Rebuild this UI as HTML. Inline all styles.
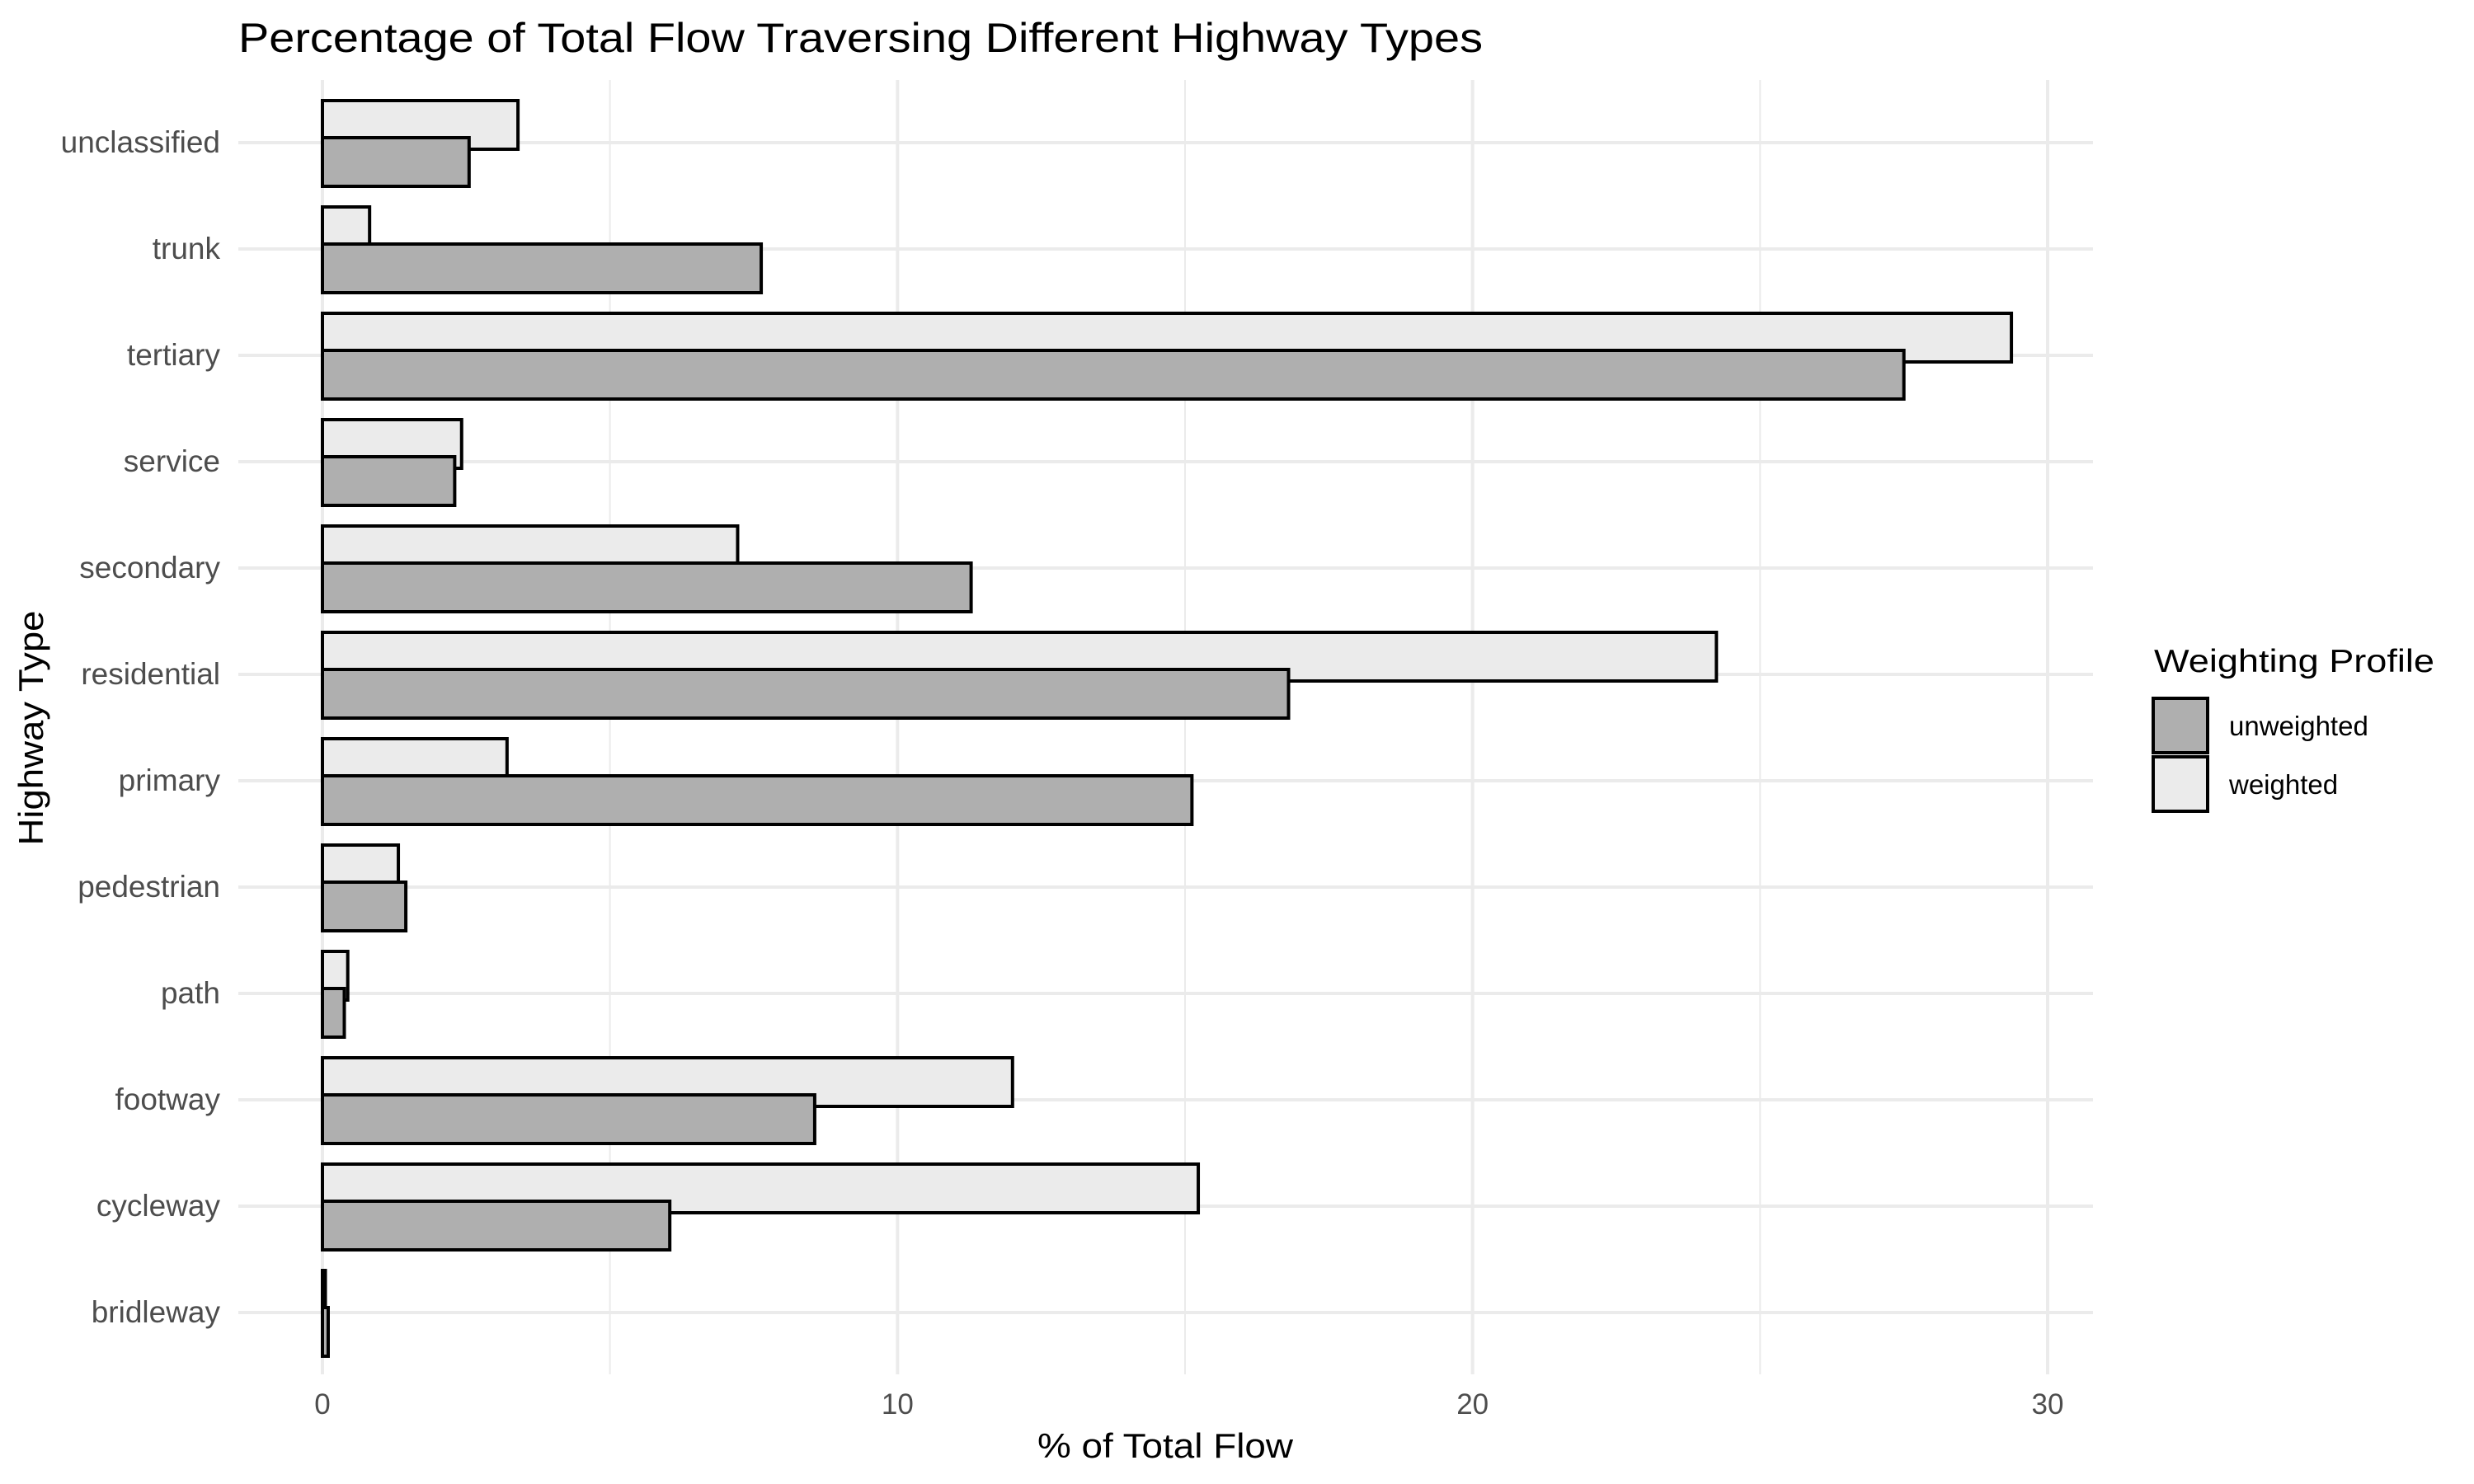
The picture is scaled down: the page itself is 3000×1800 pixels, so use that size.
<!DOCTYPE html>
<html><head><meta charset="utf-8"><style>
body{margin:0;background:#fff}
svg{display:block;font-family:"Liberation Sans",Arial,sans-serif}
</style></head><body>
<svg id="chart" width="3000" height="1800" viewBox="0 0 3000 1800">
<text x="289" y="63" font-size="50" fill="#000" textLength="1509" lengthAdjust="spacingAndGlyphs">Percentage of Total Flow Traversing Different Highway Types</text>
<g id="grid"></g>
<g id="bars"></g>
<g id="yticks"></g>
<g id="xticks"></g>
<text x="1413" y="1768" font-size="42" text-anchor="middle" textLength="310" lengthAdjust="spacingAndGlyphs">% of Total Flow</text>
<text transform="translate(52,883) rotate(-90)" font-size="42" text-anchor="middle" textLength="285" lengthAdjust="spacingAndGlyphs">Highway Type</text>
<g>
<text x="2612" y="815" font-size="39" textLength="340" lengthAdjust="spacingAndGlyphs">Weighting Profile</text>
<rect x="2611" y="847" width="66" height="66" fill="#afafaf" stroke="#000" stroke-width="4"/>
<text x="2703" y="892" font-size="33">unweighted</text>
<rect x="2611" y="918" width="66" height="66" fill="#ebebeb" stroke="#000" stroke-width="4"/>
<text x="2703" y="963" font-size="33">weighted</text>
</g>
</svg>
<script>
const categories = ["unclassified","trunk","tertiary","service","secondary","residential","primary","pedestrian","path","footway","cycleway","bridleway"];
const unweighted = [2.55,7.63,27.5,2.3,11.28,16.8,15.12,1.45,0.38,8.56,6.04,0.1];
const weighted = [3.4,0.82,29.37,2.42,7.22,24.24,3.21,1.32,0.44,12.0,15.23,0.05];
const xTicks = [0,10,20,30];
const xMinor = [5,15,25];

const NS="http://www.w3.org/2000/svg";
const x0=391, unit=(2483-391)/30;
const xs=v=>x0+v*unit;
const yc=i=>173+i*((1592-173)/11);
function mk(tag,attrs,parent){const e=document.createElementNS(NS,tag);for(const k in attrs)e.setAttribute(k,attrs[k]);parent.appendChild(e);return e;}
const grid=document.getElementById('grid'),bars=document.getElementById('bars'),yt=document.getElementById('yticks'),xt=document.getElementById('xticks');
xMinor.forEach(v=>{const l=mk('line',{x1:xs(v),x2:xs(v),y1:97,y2:1667,stroke:'#ebebeb','stroke-width':2},grid);

});
xTicks.forEach(v=>{const l=mk('line',{x1:xs(v),x2:xs(v),y1:97,y2:1667,stroke:'#ebebeb','stroke-width':4},grid);


const t=mk('text',{x:xs(v),y:1715,'font-size':35,fill:'#4d4d4d','text-anchor':'middle'},xt);t.textContent=v;

});
categories.forEach((c,i)=>{const y=yc(i);
const l=mk('line',{x1:289,x2:2538,y1:y,y2:y,stroke:'#ebebeb','stroke-width':4},grid);


const t=mk('text',{x:267,y:y+12,'font-size':37,fill:'#4d4d4d','text-anchor':'end'},yt);t.textContent=c;


const w=mk('rect',{x:xs(0),y:y-51,width:xs(weighted[i])-xs(0),height:59,fill:'#ebebeb',stroke:'#000','stroke-width':4},bars);


const u=mk('rect',{x:xs(0),y:y-6,width:xs(unweighted[i])-xs(0),height:59,fill:'#afafaf',stroke:'#000','stroke-width':4},bars);


});
</script>
</body></html>
